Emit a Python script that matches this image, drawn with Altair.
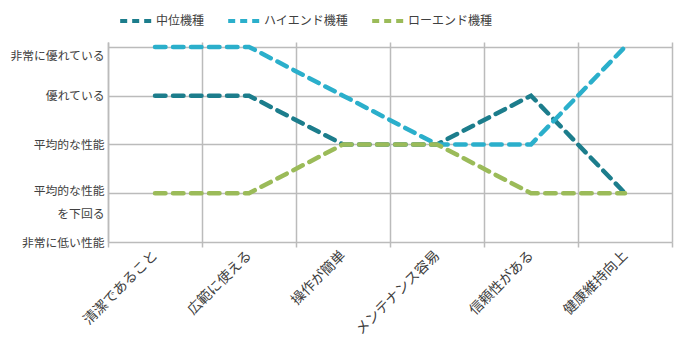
import json
import altair as alt
import pandas as pd

categories = ["清潔であること", "広範に使える", "操作が簡単", "メンテナンス容易", "信頼性がある", "健康維持向上"]
series_names = ["中位機種", "ハイエンド機種", "ローエンド機種"]
mid_values = [4, 4, 3, 3, 4, 2]
high_values = [5, 5, 4, 3, 3, 5]
low_values = [2, 2, 3, 3, 2, 2]
series_colors = ["#1C7D8C", "#2BAFCB", "#9BBB59"]
y_levels = [1, 2, 3, 4, 5]
y_labels = ["非常に低い性能", ["平均的な性能", "を下回る"], "平均的な性能", "優れている", "非常に優れている"]

rows = []
for name, vals in zip(series_names, [mid_values, high_values, low_values]):
    for i, (c, v) in enumerate(zip(categories, vals)):
        rows.append({"series": name, "category": c, "value": v, "order": i})
df = pd.DataFrame(rows)

label_expr = json.dumps(y_labels, ensure_ascii=False).replace('"', "'") + "[datum.value - 1]"

FONT = "Noto Sans CJK JP"
GRID = "#BBBBBB"
TEXT = "#404040"

chart = alt.Chart(df).mark_line(
    strokeWidth=4.5, strokeDash=[10.5, 7.5], strokeCap="round"
).encode(
    x=alt.X("category:N", sort=categories, bandPosition=0.5,
            scale=alt.Scale(type="band", domain=categories, paddingInner=0, paddingOuter=0),
            axis=alt.Axis(title=None, tickBand="extent", grid=True, gridColor=GRID, gridWidth=1.5,
                          ticks=True, tickSize=5, tickColor=GRID, tickWidth=1.5,
                          domain=False, labelAngle=315, labelAlign="right", labelBaseline="middle",
                          labelPadding=6, labelFont=FONT, labelFontSize=14, labelColor=TEXT)),
    y=alt.Y("value:Q", scale=alt.Scale(domain=[1, 5.1], nice=False),
            axis=alt.Axis(title=None, values=y_levels, labelExpr=label_expr, grid=True,
                          gridColor=GRID, gridWidth=1.5, ticks=False, domain=True,
                          domainColor=GRID, domainWidth=1.5, labelPadding=4,
                          labelFont=FONT, labelFontSize=11.8, labelColor=TEXT, labelLineHeight=23,
                          labelOffset={"condition": [{"test": "datum.value == 5", "value": 9},
                                                     {"test": "datum.value == 2", "value": -3}],
                                       "value": 0})),
    color=alt.Color("series:N", sort=series_names,
                    scale=alt.Scale(domain=series_names, range=series_colors),
                    legend=alt.Legend(title=None, orient="none", direction="horizontal",
                                      legendX=10, legendY=-39, symbolType="stroke",
                                      symbolSize=1000, symbolStrokeWidth=4, symbolDash=[7, 5],
                                      labelFont=FONT, labelFontSize=12, labelColor=TEXT,
                                      columnPadding=15, labelOffset=2)),
    order="order:Q",
).properties(
    width=564, height=200,
    autosize=alt.AutoSizeParams(type="none"),
    padding={"top": 34, "left": 100, "right": 13, "bottom": 100},
).configure_view(stroke=None)

chart.save("out.html", embed_options={"renderer": "svg", "actions": False})
